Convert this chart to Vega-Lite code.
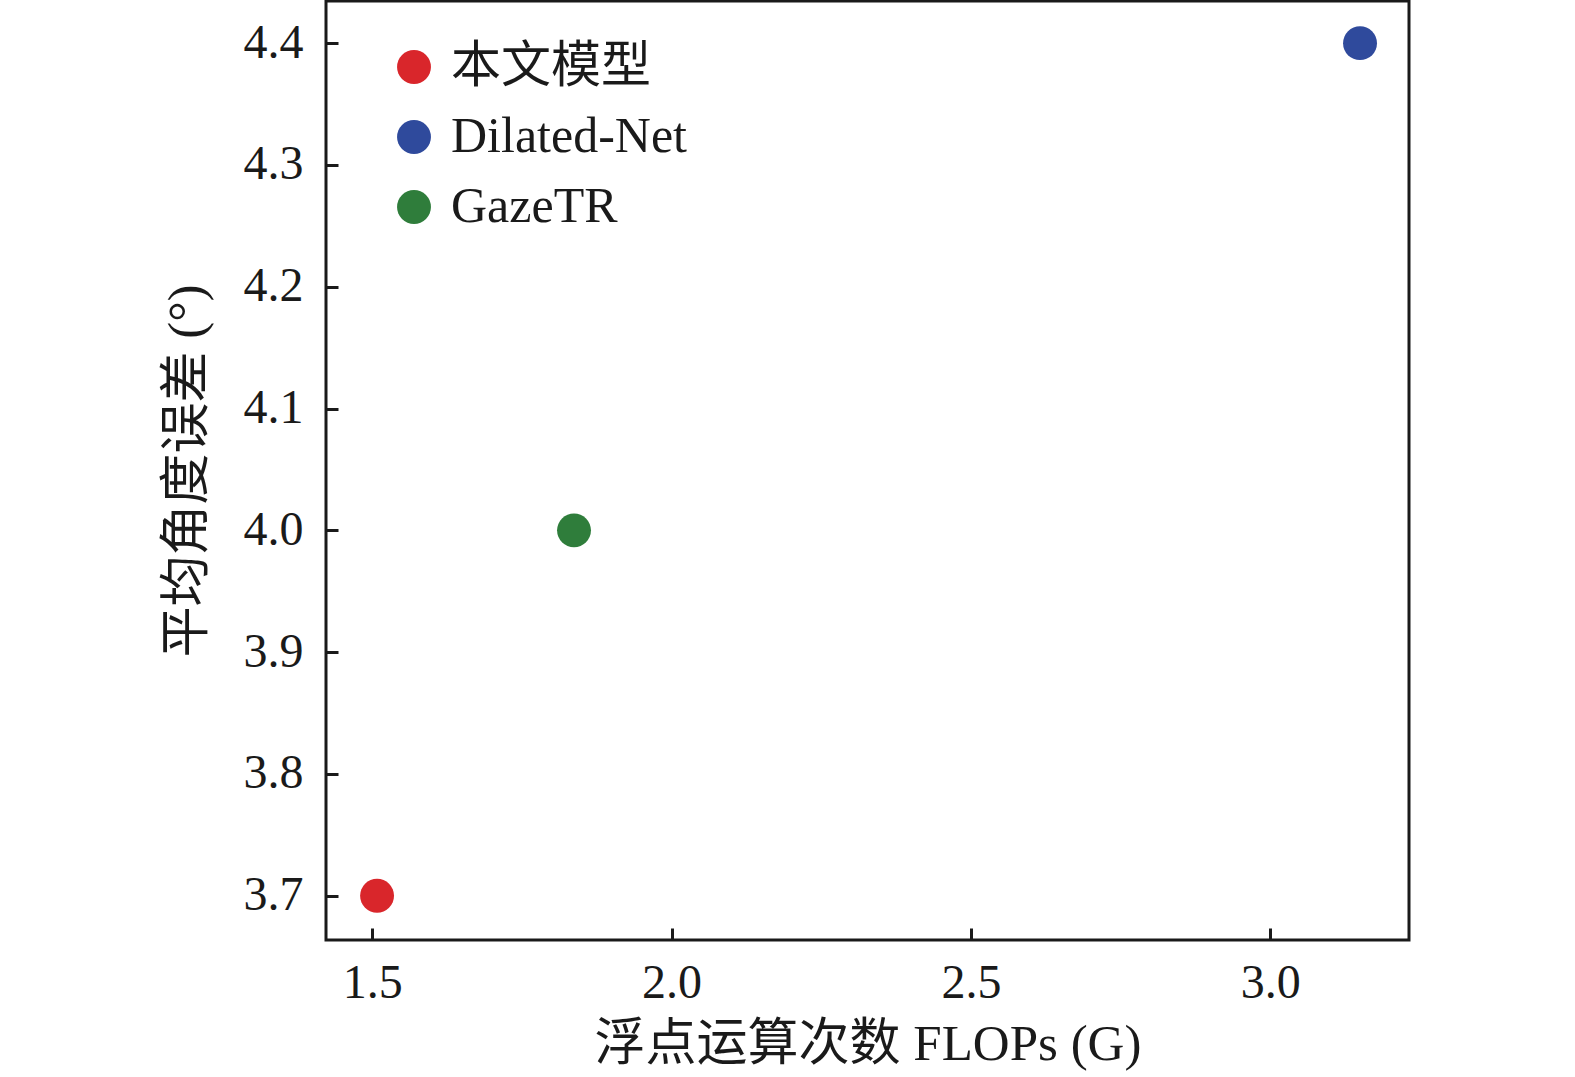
{
  "$schema": "https://vega.github.io/schema/vega-lite/v6.json",
  "width": 1083,
  "height": 939,
  "autosize": {"type": "none"},
  "padding": {"left": 326, "top": 1, "right": 166, "bottom": 137},
  "background": "white",
  "config": {
    "view": {"stroke": "#1a1a1a", "strokeWidth": 3},
    "font": "Liberation Serif, Noto Sans CJK SC",
    "axis": {
      "domain": false,
      "grid": false,
      "tickColor": "#1a1a1a",
      "tickWidth": 3,
      "tickSize": -12,
      "labelFont": "Liberation Serif",
      "labelFontSize": 48,
      "labelColor": "#1a1a1a",
      "titleFont": "Liberation Serif, Noto Sans CJK SC",
      "titleFontSize": 51,
      "titleFontWeight": "normal",
      "titleColor": "#1a1a1a"
    }
  },
  "data": {
    "values": [
      {"model": "本文模型", "flops": 1.508, "error": 3.7},
      {"model": "Dilated-Net", "flops": 3.15, "error": 4.4},
      {"model": "GazeTR", "flops": 1.837, "error": 4.0}
    ]
  },
  "mark": {"type": "circle", "size": 1150, "opacity": 1},
  "encoding": {
    "x": {
      "field": "flops",
      "type": "quantitative",
      "title": "浮点运算次数 FLOPs (G)",
      "scale": {"domain": [1.4227, 3.2318], "nice": false, "zero": false},
      "axis": {"values": [1.5, 2.0, 2.5, 3.0], "format": ".1f", "labelPadding": 31, "titlePadding": 12}
    },
    "y": {
      "field": "error",
      "type": "quantitative",
      "title": "平均角度误差 (°)",
      "scale": {"domain": [3.6637, 4.4346], "nice": false, "zero": false},
      "axis": {"values": [3.7, 3.8, 3.9, 4.0, 4.1, 4.2, 4.3, 4.4], "format": ".1f", "labelPadding": 35, "titlePadding": 30}
    },
    "color": {
      "field": "model",
      "type": "nominal",
      "scale": {
        "domain": ["本文模型", "Dilated-Net", "GazeTR"],
        "range": ["#d9262b", "#2f4a9c", "#2f7d3b"]
      },
      "legend": {
        "title": null,
        "orient": "none",
        "legendX": 63,
        "legendY": 41,
        "padding": 0,
        "symbolType": "circle",
        "symbolSize": 1150,
        "symbolOpacity": 1,
        "labelFont": "Liberation Serif, Noto Sans CJK SC",
        "labelFontSize": 50,
        "labelColor": "#1a1a1a",
        "labelLimit": 0,
        "labelOffset": 12,
        "rowPadding": 20
      }
    }
  }
}
